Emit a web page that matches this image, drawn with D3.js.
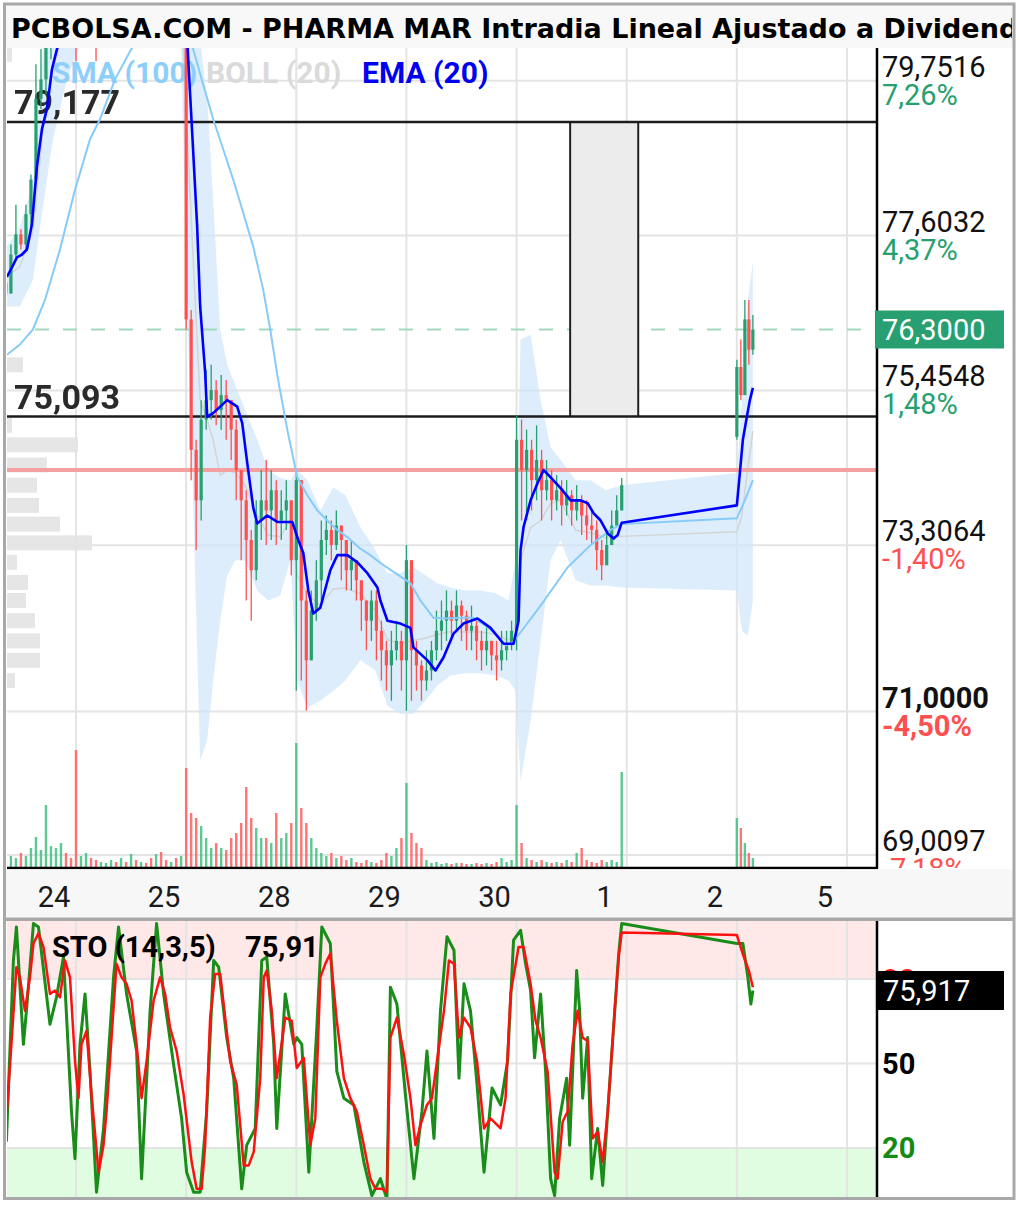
<!DOCTYPE html>
<html>
<head>
<meta charset="utf-8">
<script src="https://cdn.jsdelivr.net/npm/d3@7"></script>
<style>
  html, body { margin: 0; padding: 0; background: #fff; }
  svg { display: block; font-family: Roboto, "Noto Sans", sans-serif; }
</style>
</head>
<body>
<svg id="chart" width="1020" height="1205"></svg>
<script>
// ---------------- data ----------------
// time is measured in bar slots: 22 slots per trading session
const sessionLabels = ["24", "25", "28", "29", "30", "1", "2", "5"];
const sessionStarts = [22, 44, 66, 88, 110, 132, 154, 176];

// price axis ticks and their % change vs. previous close
const priceTicks = [79.7516, 77.6032, 75.4548, 73.3064, 71.0000, 69.0097];
const priceTickLabels = ["79,7516", "77,6032", "75,4548", "73,3064", "71,0000", "69,0097"];
const pctLabels = ["7,26%", "4,37%", "1,48%", "-1,40%", "-4,50%", "-7,18%"];
const boldTick = 71.0000;

const prevClose = 74.35;
const lastPrice = 76.30;
const lastPriceLabel = "76,3000";
const levelHigh = 79.177, levelLow = 75.093;
const levelLabels = ["79,177", "75,093"];
const boxStart = 120.7, boxEnd = 134.3;

// session block 1: bars at slots 8..131
const open1 = 76.95;
const closes1 = [
  76.80, 77.34, 77.62, 77.48, 77.90, 78.38, 79.50, 79.77, 80.33, 80.61,
  80.75, 81.02, 80.89, 80.61, 80.47, 80.75, 81.02, 80.89, 80.40, 80.75,
  81.02, 81.16, 80.95, 81.23, 81.09, 81.30, 81.16, 81.37, 81.23, 81.09,
  81.30, 81.16, 81.02, 81.23, 81.09, 81.16, 76.44, 74.63, 73.93, 75.05,
  75.32, 75.46, 75.18, 75.39, 75.32, 74.91, 74.35, 73.93, 73.38, 72.96,
  73.65, 73.93, 73.79, 74.07, 73.65, 73.79, 73.93, 73.10, 74.21, 72.54,
  71.71, 72.40, 72.82, 73.38, 73.52, 73.31, 73.58, 73.38, 72.96, 73.10,
  72.82, 72.54, 72.26, 72.54, 72.12, 71.85, 71.64, 71.85, 71.98, 71.71,
  73.10, 71.85, 71.64, 71.43, 71.57, 71.85, 72.12, 72.26, 72.40, 72.26,
  72.47, 72.33, 72.12, 72.19, 71.98, 71.85, 71.98, 71.78, 71.71, 71.85,
  71.92, 72.12, 74.77, 74.35, 74.63, 74.21, 74.49, 74.07, 74.21, 73.93,
  74.07, 73.86, 74.00, 73.79, 73.93, 73.72, 73.58, 73.52, 73.24, 73.03,
  73.31, 73.58, 73.79, 74.14
];
const highs1 = [
  77.13, 77.48, 78.03, 77.69, 78.03, 78.45, 79.98, 80.19, 80.61, 80.89,
  81.16, 81.30, 81.16, 81.02, 80.89, 81.09, 81.30, 81.16, 80.95, 81.16,
  81.30, 81.44, 81.30, 81.51, 81.37, 81.58, 81.44, 81.65, 81.51, 81.37,
  81.58, 81.44, 81.30, 81.51, 81.37, 81.44, 81.30, 76.57, 74.77, 75.32,
  75.74, 75.81, 75.60, 75.67, 75.60, 75.32, 75.05, 74.35, 74.07, 73.52,
  73.93, 74.35, 74.49, 74.35, 74.21, 74.07, 74.21, 73.93, 74.35, 74.21,
  72.68, 72.68, 73.10, 73.65, 73.72, 73.65, 73.79, 73.52, 73.38, 73.38,
  73.10, 72.82, 72.54, 72.68, 72.68, 72.26, 71.98, 72.12, 72.26, 72.12,
  73.31, 72.26, 71.98, 71.71, 71.85, 71.98, 72.40, 72.54, 72.68, 72.54,
  72.68, 72.54, 72.40, 72.47, 72.26, 72.12, 72.19, 71.98, 71.98, 72.12,
  72.12, 72.26, 75.11, 75.05, 74.91, 74.77, 74.97, 74.63, 74.49, 74.35,
  74.28, 74.21, 74.21, 74.07, 74.14, 74.00, 73.93, 73.79, 73.65, 73.38,
  73.52, 73.79, 74.00, 74.24
];
const lows1 = [
  76.71, 76.82, 77.30, 77.41, 77.41, 77.69, 78.31, 79.36, 79.56, 80.05,
  80.33, 80.47, 80.61, 80.33, 80.02, 80.33, 80.61, 80.47, 80.02, 80.33,
  80.61, 80.89, 80.61, 80.95, 80.75, 81.02, 80.89, 81.09, 80.95, 80.82,
  81.02, 80.89, 80.75, 80.95, 80.82, 80.89, 76.30, 74.21, 73.24, 73.65,
  74.91, 75.05, 74.97, 74.91, 74.77, 74.49, 73.93, 73.10, 72.54, 72.26,
  72.82, 73.38, 73.31, 73.38, 73.31, 73.38, 73.52, 72.89, 71.29, 71.43,
  71.01, 71.85, 72.26, 72.54, 73.17, 73.10, 73.24, 72.82, 72.68, 72.68,
  72.54, 72.12, 71.85, 71.98, 71.71, 71.43, 71.29, 71.15, 71.71, 71.29,
  71.01, 71.15, 71.29, 71.15, 71.29, 71.43, 71.71, 71.85, 71.98, 71.98,
  72.12, 71.98, 71.85, 71.85, 71.71, 71.57, 71.64, 71.57, 71.43, 71.57,
  71.71, 71.85, 71.85, 73.65, 73.65, 73.79, 73.93, 73.65, 73.93, 73.65,
  73.79, 73.58, 73.72, 73.58, 73.65, 73.45, 73.38, 73.31, 72.96, 72.82,
  73.10, 73.31, 73.58, 73.79
];
const volumes1 = [
  8, 12, 10, 15, 12, 20, 31, 18, 63, 22,
  20, 25, 15, 10, 118, 12, 15, 10, 8, 6,
  5, 8, 6, 10, 6, 14, 8, 6, 5, 10,
  14, 16, 8, 6, 10, 12, 100, 55, 50, 42,
  30, 20, 25, 20, 18, 30, 35, 45, 81, 50,
  40, 30, 30, 25, 55, 30, 35, 45, 125, 60,
  45, 30, 20, 15, 12, 15, 10, 12, 8, 10,
  6, 5, 8, 6, 5, 8, 15, 12, 20, 30,
  85, 35, 25, 20, 8, 5, 6, 4, 5, 4,
  5, 5, 4, 4, 5, 4, 5, 4, 6, 10,
  6, 8, 63, 25, 10, 8, 6, 8, 6, 5,
  6, 5, 8, 6, 15, 20, 8, 6, 5, 8,
  6, 8, 6, 96
];

// session block 2 (current session, starts at slot 154)
const open2 = 74.81;
const closes2 = [75.78, 75.39, 76.44, 76.02, 76.30];
const highs2 = [75.88, 76.16, 76.71, 76.71, 76.50];
const lows2 = [74.77, 75.32, 75.39, 75.81, 75.95];
const volumes2 = [50, 40, 25, 15, 10];

// indicators: [slot, value]
const ema20 = [
  [8.2, 77.03], [9.2, 77.16], [10.2, 77.30], [11.2, 77.34], [12.2, 77.41],
  [13.2, 77.76], [14.2, 78.56], [15.2, 79.08], [16.2, 79.36], [17.2, 79.91],
  [18.2, 80.19], [19.2, 80.40], [22.8, 80.9], [28.8, 81.2], [36.8, 81.25],
  [42.8, 81.0], [44.2, 80.33], [45.2, 79.04], [46.2, 77.73], [46.8, 76.62],
  [47.8, 75.70], [48.2, 75.09], [49.4, 75.14], [52.2, 75.32], [54.2, 75.23],
  [55.2, 75.00], [56.2, 74.45], [57.4, 73.83], [58.2, 73.61], [60.2, 73.72],
  [62.2, 73.63], [65.2, 73.63], [66.4, 73.38], [67.4, 73.20], [68.4, 72.68],
  [69.4, 72.36], [70.8, 72.44], [72.8, 72.96], [74.2, 73.17], [76.2, 73.17],
  [78.2, 73.07], [80.2, 72.92], [82.2, 72.72], [82.8, 72.54], [84.2, 72.26],
  [86.8, 72.22], [88.8, 72.16], [89.4, 71.89], [92.2, 71.71], [93.8, 71.57],
  [95.4, 71.75], [97.4, 72.08], [99.4, 72.22], [102.2, 72.29], [104.8, 72.16],
  [107.4, 71.94], [109.4, 71.94], [110.4, 72.26], [110.8, 73.24], [111.4, 73.56],
  [112.8, 73.93], [114.2, 74.17], [115.4, 74.35], [116.8, 74.25], [118.8, 74.10],
  [120.8, 73.93], [122.8, 73.93], [124.2, 73.89], [125.4, 73.75], [126.8, 73.65],
  [128.2, 73.47], [129.4, 73.40], [130.2, 73.45], [131.0, 73.62],
  [154.0, 73.86], [154.6, 74.31], [155.2, 74.77], [156.0, 75.09], [156.6, 75.32], [157.2, 75.49]
];
const sma100 = [
  [8.2, 75.95], [10.8, 76.09], [13.4, 76.30], [15.8, 76.71], [18.8, 77.41],
  [21.8, 78.24], [24.8, 78.94], [26.8, 79.22], [29.8, 79.77], [32.8, 80.16],
  [36.8, 80.61], [40.8, 80.68], [43.8, 80.47], [45.4, 80.19], [47.4, 79.70],
  [49.4, 79.22], [51.4, 78.80], [53.4, 78.38], [55.4, 77.92], [57.4, 77.45],
  [59.4, 76.85], [60.8, 76.30], [62.2, 75.67], [64.2, 74.91], [66.2, 74.25],
  [68.2, 74.00], [70.2, 73.79], [72.2, 73.65], [74.2, 73.52], [76.2, 73.42],
  [78.8, 73.26], [80.8, 73.17], [82.8, 73.06], [85.8, 72.92], [88.8, 72.78],
  [90.8, 72.54], [93.4, 72.30], [95.8, 72.29], [98.8, 72.30], [101.4, 72.30],
  [103.8, 72.19], [106.2, 72.05], [107.8, 71.92], [109.2, 71.96], [110.8, 72.10],
  [114.8, 72.47], [120.2, 73.00], [124.8, 73.31], [128.8, 73.52], [131.0, 73.60],
  [154.0, 73.68], [155.6, 73.93], [157.2, 74.21]
];
// Bollinger (20): [slot, upper, lower]
const boll20 = [
  [8.2, 77.45, 76.62], [10.8, 77.73, 76.62], [13.4, 78.34, 76.99], [15.4, 80.19, 78.01],
  [17.4, 80.89, 78.94], [20.2, 81.44, 79.77], [24.8, 81.58, 80.61], [32.8, 81.58, 80.75],
  [42.8, 81.58, 80.75], [44.2, 81.44, 76.71], [45.4, 80.61, 73.93], [46.8, 80.33, 70.32],
  [48.2, 79.50, 70.60], [49.4, 78.10, 71.43], [50.8, 76.30, 72.26], [52.2, 75.81, 72.89],
  [53.8, 75.53, 73.10], [55.8, 75.18, 73.10], [58.2, 74.77, 72.68], [60.4, 74.35, 72.54],
  [62.8, 74.24, 72.61], [64.8, 74.21, 73.10], [66.2, 74.35, 71.43], [68.2, 74.21, 71.05],
  [70.8, 73.79, 71.15], [73.4, 74.11, 71.29], [75.8, 74.00, 71.43], [78.8, 73.56, 71.71],
  [81.8, 73.24, 71.57], [84.2, 72.92, 71.08], [86.8, 72.92, 70.97], [89.4, 73.00, 70.97],
  [91.8, 72.89, 71.15], [94.2, 72.78, 71.36], [96.8, 72.72, 71.50], [99.8, 72.68, 71.53],
  [102.8, 72.68, 71.53], [105.8, 72.64, 71.50], [108.4, 72.54, 71.43], [109.8, 73.10, 71.29],
  [110.8, 76.16, 70.04], [112.8, 76.23, 70.87], [114.8, 75.32, 71.98], [116.8, 74.67, 73.10],
  [118.8, 74.49, 73.38], [121.8, 74.21, 72.82], [124.8, 74.21, 72.75], [127.8, 74.07, 72.75],
  [131.0, 74.14, 72.72], [154.0, 74.31, 72.68], [155.0, 75.32, 72.12], [156.2, 76.71, 72.05],
  [157.2, 77.24, 72.54]
];

// volume-at-price profile
const profilePrices = [80.12, 75.81, 74.97, 74.70, 74.42, 74.14, 73.86, 73.60, 73.34, 73.07, 72.79, 72.54, 72.26, 71.98, 71.71, 71.43];
const profileVolumes = [5, 16, 5, 71, 40, 30, 32, 53, 85, 10, 21, 19, 28, 33, 33, 8];

// Stochastic (14,3,5): %K and %D
const stochK = [
  [8.1, 22.2], [9.5, 86.6], [10.1, 98.5], [11.5, 56.8], [12.1, 68.7], [13.5, 99.7], [14.5, 98.5],
  [16.8, 63.9], [18.1, 73.5], [19.5, 87.8], [21.1, 32.9], [21.8, 16.2], [22.8, 56.8], [23.8, 74.7],
  [24.8, 47.2], [26.1, 4.3], [27.5, 26.9], [29.5, 80.6], [30.5, 98.5], [32.1, 74.7], [34.1, 54.4],
  [35.1, 9.1], [36.8, 68.7], [38.1, 99.7], [39.5, 74.7], [41.5, 49.6], [43.1, 30.5], [44.1, 11.4],
  [45.5, 4.3], [46.8, 4.3], [48.1, 32.9], [49.5, 86.6], [50.5, 84.2], [52.1, 59.2], [53.5, 44.8],
  [55.1, 5.5], [56.1, 21.0], [57.8, 26.9], [59.1, 86.6], [60.1, 87.8], [61.5, 56.8], [62.1, 26.9],
  [63.8, 74.7], [65.5, 56.8], [66.1, 59.2], [67.1, 56.8], [68.5, 11.4], [70.1, 62.7], [71.1, 98.5],
  [72.8, 92.6], [74.1, 47.2], [75.5, 37.7], [77.5, 35.3], [79.5, 15.0], [81.1, 3.1], [82.8, 9.1],
  [84.1, 1.9], [84.8, 77.1], [86.1, 71.1], [87.8, 38.9], [89.5, 9.1], [91.1, 32.9], [92.1, 54.4],
  [93.5, 23.4], [94.8, 68.7], [96.1, 95.0], [97.5, 90.2], [98.5, 44.8], [99.5, 78.3], [100.8, 68.7],
  [102.1, 42.5], [103.5, 11.4], [105.1, 41.3], [106.8, 35.3], [108.2, 50.8], [109.4, 93.8],
  [110.8, 97.3], [111.8, 85.4], [112.8, 75.9], [113.6, 52.0], [114.8, 74.7], [115.8, 47.2],
  [116.8, 9.1], [117.6, 3.1], [118.6, 30.5], [120.0, 44.8], [120.6, 21.0], [122.0, 83.0],
  [122.6, 68.7], [123.2, 37.7], [124.2, 59.2], [125.0, 9.1], [126.2, 26.9], [127.2, 6.7],
  [129.0, 53.2], [130.4, 89.0], [131.0, 99.7],
  [154.0, 92.6], [155.2, 92.6], [156.2, 80.6], [156.8, 71.1], [157.2, 75.92]
];
const stochD = [
  [8.1, 30.5], [9.1, 56.8], [10.1, 84.2], [10.8, 80.6], [11.8, 68.7], [12.8, 80.6], [13.5, 92.6],
  [14.5, 96.2], [15.5, 91.4], [16.8, 74.7], [17.8, 75.9], [18.8, 73.5], [19.8, 86.6], [20.8, 80.6],
  [21.8, 50.8], [22.5, 37.7], [23.1, 56.8], [24.1, 61.6], [25.1, 38.9], [26.5, 11.4], [27.5, 21.0],
  [28.1, 32.9], [29.1, 59.2], [30.1, 85.4], [31.1, 80.6], [32.1, 78.3], [33.1, 72.3], [34.1, 56.8],
  [35.1, 37.7], [36.1, 50.8], [37.5, 72.3], [38.8, 80.6], [39.8, 74.7], [40.8, 62.7], [42.1, 54.4],
  [43.5, 38.9], [45.1, 15.0], [46.1, 5.5], [47.1, 5.5], [47.8, 21.0], [48.8, 66.3], [49.8, 81.8],
  [50.8, 81.8], [51.8, 66.3], [52.8, 50.8], [54.1, 42.5], [55.5, 13.8], [56.5, 13.8], [57.5, 18.6],
  [58.8, 44.8], [59.5, 80.6], [60.1, 83.0], [61.1, 68.7], [62.1, 44.8], [63.8, 66.3], [65.1, 65.1],
  [66.1, 48.4], [67.5, 52.0], [68.8, 21.0], [69.8, 30.5], [70.8, 80.6], [71.8, 85.4], [72.8, 89.0],
  [74.1, 65.1], [75.5, 44.8], [76.8, 37.7], [78.1, 32.9], [79.5, 21.0], [80.8, 9.1], [81.8, 5.5],
  [83.1, 5.5], [84.1, 4.3], [84.8, 59.2], [86.1, 66.3], [87.5, 53.2], [88.8, 37.7], [89.8, 21.0],
  [90.8, 28.1], [92.1, 35.3], [93.1, 37.7], [94.1, 50.8], [95.5, 68.7], [96.5, 86.6], [97.5, 85.4],
  [98.5, 59.2], [99.5, 66.3], [100.8, 62.7], [102.1, 50.8], [103.5, 26.9], [104.8, 30.5],
  [106.8, 27.0], [107.8, 37.7], [108.8, 74.7], [110.4, 91.4], [111.4, 91.4], [112.8, 78.3],
  [113.8, 65.1], [114.8, 59.2], [116.2, 47.2], [117.6, 11.4], [118.2, 9.1], [119.2, 29.3],
  [120.2, 32.9], [121.2, 56.8], [122.2, 68.7], [123.2, 59.2], [124.2, 58.0], [125.2, 23.4],
  [126.2, 25.8], [127.2, 15.0], [128.2, 32.9], [129.6, 68.7], [130.4, 88.0], [131.0, 96.5],
  [154.0, 95.6], [155.4, 87.8], [156.4, 83.0], [157.2, 77.1]
];
const stochLevels = [80, 50, 20];
const stochLastLabel = "75,917";
const stochLegendValue = "75,91";

// ---------------- layout ----------------
const svg = d3.select("#chart");
const plot = { left: 7, right: 877, top: 48, bottom: 868 };
const stochPanel = { top: 921, bottom: 1197 };
const GREEN = "#26a06e", RED = "#ff5050";

const x = d3.scaleLinear().domain([22, 176]).range([76, 847]);
const y = d3.scaleLinear().domain([69.0097, 79.7516]).range([855, 80.7]);
const yVol = d3.scaleLinear().domain([0, 125]).range([plot.bottom, plot.bottom - 125]);
const yStoch = d3.scaleLinear().domain([0, 100]).range([1204.3, 922.7]);
const xProfile = d3.scaleLinear().domain([0, 100]).range([plot.left, plot.left + 100]);

function buildBars(start, step, firstOpen, closes, highs, lows, vols) {
  return closes.map((c, i) => {
    const o = i === 0 ? firstOpen : closes[i - 1];
    return { t: start + i * step, o, c,
             h: Math.max(highs[i], o, c), l: Math.min(lows[i], o, c), v: vols[i] };
  });
}
const bars = buildBars(8, 1, open1, closes1, highs1, lows1, volumes1)
  .concat(buildBars(154, 0.8, open2, closes2, highs2, lows2, volumes2));

const defs = svg.append("defs");
defs.append("clipPath").attr("id", "clipMain").append("rect")
  .attr("x", plot.left).attr("y", plot.top)
  .attr("width", plot.right - plot.left).attr("height", plot.bottom - plot.top);
defs.append("clipPath").attr("id", "clipStoch").append("rect")
  .attr("x", plot.left).attr("y", stochPanel.top)
  .attr("width", plot.right - plot.left).attr("height", stochPanel.bottom - stochPanel.top);
defs.append("clipPath").attr("id", "clipTitle").append("rect")
  .attr("x", 6).attr("y", 5).attr("width", 1006).attr("height", 43);
defs.append("clipPath").attr("id", "clipAxis").append("rect")
  .attr("x", plot.right).attr("y", plot.top).attr("width", 140).attr("height", plot.bottom - plot.top);
defs.append("filter").attr("id", "soft").append("feGaussianBlur").attr("stdDeviation", 0.6);

svg.append("rect").attr("width", 1020).attr("height", 1205).attr("fill", "#fff");

// title bar
svg.append("rect").attr("x", 5).attr("y", 5).attr("width", 1008).attr("height", 43).attr("fill", "#f8f8f8");
svg.append("text").attr("clip-path", "url(#clipTitle)")
  .attr("x", 11).attr("y", 38)
  .attr("font-family", "'DejaVu Sans', sans-serif")
  .attr("font-size", 27).attr("font-weight", 700).attr("fill", "#000")
  .text("PCBOLSA.COM - PHARMA MAR Intradia Lineal Ajustado a Dividendos");

// ---------------- main price panel ----------------
const main = svg.append("g").attr("clip-path", "url(#clipMain)");

// volume-at-price profile
main.append("g").selectAll("rect").data(profilePrices).join("rect")
  .attr("x", plot.left)
  .attr("y", d => y(d + 0.104))
  .attr("width", (d, i) => xProfile(profileVolumes[i]) - plot.left)
  .attr("height", d => y(d - 0.104) - y(d + 0.104))
  .attr("fill", "#e2e2e2").attr("opacity", 0.85);

// grid
main.append("g").selectAll("line").data(priceTicks).join("line")
  .attr("x1", plot.left).attr("x2", plot.right)
  .attr("y1", d => y(d)).attr("y2", d => y(d))
  .attr("stroke", "#e4e4e4").attr("stroke-width", 2);
main.append("g").selectAll("line").data(sessionStarts).join("line")
  .attr("x1", d => x(d)).attr("x2", d => x(d))
  .attr("y1", plot.top).attr("y2", plot.bottom)
  .attr("stroke", "#e4e4e4").attr("stroke-width", 2);

// Bollinger band
main.append("path").datum(boll20)
  .attr("d", d3.area().x(d => x(d[0])).y0(d => y(d[2])).y1(d => y(d[1])))
  .attr("fill", "#cfe6fa").attr("opacity", 0.7);
main.append("path").datum(boll20)
  .attr("d", d3.line().x(d => x(d[0])).y(d => y((d[1] + d[2]) / 2)))
  .attr("fill", "none").attr("stroke", "#d4d4d4").attr("stroke-width", 1.5);

// volume bars
main.append("g").selectAll("rect").data(bars).join("rect")
  .attr("x", d => x(d.t) - 1.2).attr("width", 2.4)
  .attr("y", d => yVol(d.v)).attr("height", d => plot.bottom - yVol(d.v))
  .attr("fill", d => d.c >= d.o ? "#3fbf80" : "#ff5c5c").attr("opacity", 0.85);

// previous close and last price reference lines
main.append("line").attr("x1", plot.left).attr("x2", plot.right)
  .attr("y1", y(prevClose)).attr("y2", y(prevClose))
  .attr("stroke", "#f5a0a0").attr("stroke-width", 4);
main.append("line").attr("x1", plot.left).attr("x2", plot.right)
  .attr("y1", y(lastPrice)).attr("y2", y(lastPrice))
  .attr("stroke", "#a3d9bf").attr("stroke-width", 2).attr("stroke-dasharray", "14,14");

// range box between the two levels
main.append("rect").attr("x", x(boxStart)).attr("width", x(boxEnd) - x(boxStart))
  .attr("y", y(levelHigh)).attr("height", y(levelLow) - y(levelHigh)).attr("fill", "#ececec");
main.append("g").selectAll("line").data([boxStart, boxEnd]).join("line")
  .attr("x1", d => x(d)).attr("x2", d => x(d))
  .attr("y1", y(levelHigh)).attr("y2", y(levelLow))
  .attr("stroke", "#222").attr("stroke-width", 2);
main.append("g").selectAll("line").data([levelHigh, levelLow]).join("line")
  .attr("x1", plot.left).attr("x2", plot.right)
  .attr("y1", d => y(d)).attr("y2", d => y(d))
  .attr("stroke", "#1c1c1c").attr("stroke-width", 2.5);

// level labels
main.append("g").selectAll("text").data([levelHigh, levelLow]).join("text")
  .attr("x", 14).attr("y", d => y(d) - 8)
  .attr("font-size", 34).attr("font-weight", 700).attr("fill", "#2a2a2a")
  .attr("filter", "url(#soft)")
  .text((d, i) => levelLabels[i]);

// legend
const legend = main.append("g").attr("font-size", 30).attr("font-weight", 700);
legend.append("text").attr("x", 52).attr("y", 83).attr("fill", "#8ecffa").text("SMA (100)");
legend.append("text").attr("x", 206).attr("y", 83).attr("fill", "#dadada").text("BOLL (20)");
legend.append("text").attr("x", 362).attr("y", 83).attr("fill", "#0000f0").text("EMA (20)");

// candles
const candles = main.append("g").selectAll("g").data(bars).join("g")
  .attr("stroke", d => d.c >= d.o ? GREEN : RED)
  .attr("fill", d => d.c >= d.o ? GREEN : RED);
candles.append("line")
  .attr("x1", d => x(d.t)).attr("x2", d => x(d.t))
  .attr("y1", d => y(d.h)).attr("y2", d => y(d.l)).attr("stroke-width", 1.3);
candles.append("rect")
  .attr("x", d => x(d.t) - 1.6).attr("width", 3.2)
  .attr("y", d => y(Math.max(d.o, d.c)))
  .attr("height", d => Math.max(1, Math.abs(y(d.o) - y(d.c))))
  .attr("stroke", "none");

// moving averages
main.append("path").datum(sma100)
  .attr("d", d3.line().x(d => x(d[0])).y(d => y(d[1])))
  .attr("fill", "none").attr("stroke", "#87cbf8").attr("stroke-width", 2);
main.append("path").datum(ema20)
  .attr("d", d3.line().x(d => x(d[0])).y(d => y(d[1])))
  .attr("fill", "none").attr("stroke", "#0000ff").attr("stroke-width", 2.6)
  .attr("stroke-linejoin", "round");

// axis frame
svg.append("line").attr("x1", plot.left).attr("x2", plot.right + 1)
  .attr("y1", plot.bottom).attr("y2", plot.bottom).attr("stroke", "#000").attr("stroke-width", 2.5);
svg.append("line").attr("x1", plot.right).attr("x2", plot.right)
  .attr("y1", plot.top).attr("y2", plot.bottom).attr("stroke", "#000").attr("stroke-width", 2.5);

// right price axis labels
const axisG = svg.append("g").attr("clip-path", "url(#clipAxis)").attr("font-size", 29);
priceTicks.forEach((v, i) => {
  const bold = v === boldTick ? 700 : 400;
  axisG.append("text").attr("x", 882).attr("y", y(v) - 4)
    .attr("fill", "#111").attr("font-weight", bold).text(priceTickLabels[i]);
  axisG.append("text").attr("x", 882).attr("y", y(v) + 24)
    .attr("fill", pctLabels[i].startsWith("-") ? RED : GREEN)
    .attr("font-weight", bold).text(pctLabels[i]);
});
svg.append("rect").attr("x", 875).attr("y", y(lastPrice) - 19).attr("width", 129).attr("height", 38)
  .attr("fill", "#279f70");
svg.append("text").attr("x", 882).attr("y", y(lastPrice) + 10.5).attr("font-size", 29)
  .attr("fill", "#fff").text(lastPriceLabel);

// time axis band
svg.append("rect").attr("x", 5).attr("y", plot.bottom + 1.3).attr("width", 1008).attr("height", 48)
  .attr("fill", "#f7f7f7");
svg.append("g").selectAll("text").data(sessionStarts).join("text")
  .attr("x", d => x(d - 4.4)).attr("y", 907)
  .attr("text-anchor", "middle").attr("font-size", 29).attr("fill", "#1a1a1a")
  .text((d, i) => sessionLabels[i]);
svg.append("rect").attr("x", 5).attr("y", 917.5).attr("width", 1008).attr("height", 3.5).attr("fill", "#a9a9a9");

// ---------------- stochastic panel ----------------
const sto = svg.append("g").attr("clip-path", "url(#clipStoch)");
sto.append("rect").attr("x", plot.left).attr("width", plot.right - plot.left)
  .attr("y", stochPanel.top).attr("height", yStoch(80) - stochPanel.top).attr("fill", "#ffe8e8");
sto.append("rect").attr("x", plot.left).attr("width", plot.right - plot.left)
  .attr("y", yStoch(20)).attr("height", stochPanel.bottom - yStoch(20)).attr("fill", "#e1fde1");
sto.append("g").selectAll("line").data(stochLevels).join("line")
  .attr("x1", plot.left).attr("x2", plot.right)
  .attr("y1", d => yStoch(d)).attr("y2", d => yStoch(d))
  .attr("stroke", "#e4e4e4").attr("stroke-width", 2);
sto.append("g").selectAll("line").data(sessionStarts).join("line")
  .attr("x1", d => x(d)).attr("x2", d => x(d))
  .attr("y1", stochPanel.top).attr("y2", stochPanel.bottom)
  .attr("stroke", "#e4e4e4").attr("stroke-width", 2);
sto.append("path").datum(stochK)
  .attr("d", d3.line().x(d => x(d[0])).y(d => yStoch(d[1])))
  .attr("fill", "none").attr("stroke", "#1a8c1a").attr("stroke-width", 3).attr("stroke-linejoin", "round");
sto.append("path").datum(stochD)
  .attr("d", d3.line().x(d => x(d[0])).y(d => yStoch(d[1])))
  .attr("fill", "none").attr("stroke", "#ff1010").attr("stroke-width", 2.5).attr("stroke-linejoin", "round");
sto.append("text").attr("x", 52).attr("y", 957).attr("font-size", 29).attr("font-weight", 700)
  .attr("fill", "#000").text("STO (14,3,5)");
sto.append("text").attr("x", 245).attr("y", 957).attr("font-size", 29).attr("font-weight", 700)
  .attr("fill", "#000").text(stochLegendValue);

svg.append("line").attr("x1", plot.right).attr("x2", plot.right)
  .attr("y1", stochPanel.top).attr("y2", stochPanel.bottom).attr("stroke", "#000").attr("stroke-width", 2.5);

const stoColors = { 80: "#ff1a1a", 50: "#000", 20: "#138a13" };
svg.append("g").selectAll("text").data(stochLevels).join("text")
  .attr("x", 882).attr("y", d => yStoch(d) + 10.5)
  .attr("font-size", 29).attr("font-weight", 700)
  .attr("fill", d => stoColors[d]).text(d => d);
const lastK = stochK[stochK.length - 1][1];
svg.append("rect").attr("x", 876).attr("y", yStoch(lastK) - 19.5).attr("width", 128).attr("height", 39)
  .attr("fill", "#000");
svg.append("text").attr("x", 883).attr("y", yStoch(lastK) + 10.5).attr("font-size", 29)
  .attr("fill", "#fff").text(stochLastLabel);

// outer frame
svg.append("rect").attr("x", 4.5).attr("y", 4).attr("width", 1009.5).attr("height", 1194.5)
  .attr("fill", "none").attr("stroke", "#a8a8a8").attr("stroke-width", 3);
</script>
</body>
</html>
